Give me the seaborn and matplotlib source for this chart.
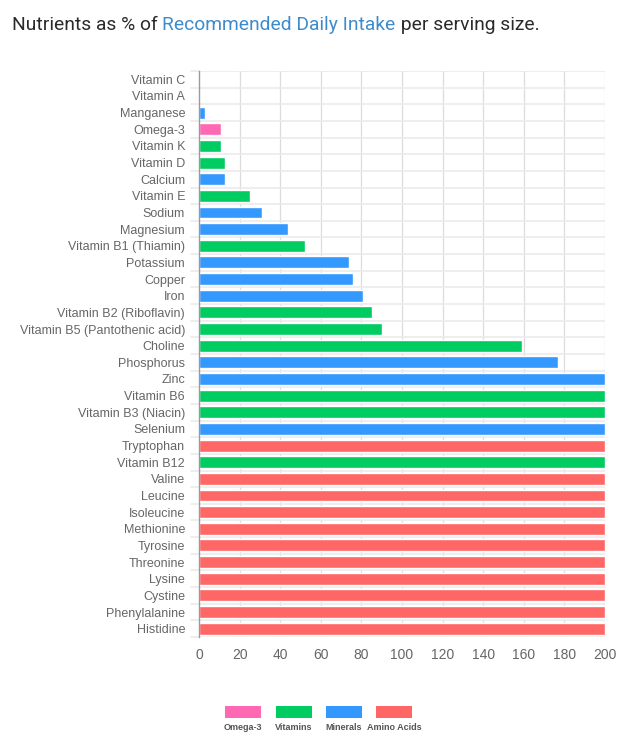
import matplotlib
matplotlib.use("Agg")
import matplotlib.pyplot as plt
from matplotlib.patches import Rectangle
import seaborn as sns
import pandas as pd

# data (values capped at 200)
nutrients = [
    "Vitamin C", "Vitamin A", "Manganese", "Omega-3", "Vitamin K", "Vitamin D",
    "Calcium", "Vitamin E", "Sodium", "Magnesium", "Vitamin B1 (Thiamin)",
    "Potassium", "Copper", "Iron", "Vitamin B2 (Riboflavin)",
    "Vitamin B5 (Pantothenic acid)", "Choline", "Phosphorus", "Zinc",
    "Vitamin B6", "Vitamin B3 (Niacin)", "Selenium", "Tryptophan",
    "Vitamin B12", "Valine", "Leucine", "Isoleucine", "Methionine",
    "Tyrosine", "Threonine", "Lysine", "Cystine", "Phenylalanine", "Histidine",
]
percent = [
    0, 0, 3, 11, 11, 13,
    13, 25, 31, 44, 52,
    74, 76, 81, 85,
    90, 159, 177, 200,
    200, 200, 200, 200,
    200, 200, 200, 200, 200,
    200, 200, 200, 200, 200, 200,
]
groups = [
    "Vitamins", "Vitamins", "Minerals", "Omega-3", "Vitamins", "Vitamins",
    "Minerals", "Vitamins", "Minerals", "Minerals", "Vitamins",
    "Minerals", "Minerals", "Minerals", "Vitamins",
    "Vitamins", "Vitamins", "Minerals", "Minerals",
    "Vitamins", "Vitamins", "Minerals", "Amino Acids",
    "Vitamins", "Amino Acids", "Amino Acids", "Amino Acids", "Amino Acids",
    "Amino Acids", "Amino Acids", "Amino Acids", "Amino Acids", "Amino Acids", "Amino Acids",
]
legend_order = ["Omega-3", "Vitamins", "Minerals", "Amino Acids"]
palette = {"Omega-3": "#ff69b4", "Vitamins": "#00cc62",
           "Minerals": "#3399ff", "Amino Acids": "#ff6666"}

df = pd.DataFrame({"nutrient": nutrients, "percent": percent, "group": groups})

sns.set_style("white")
plt.rcParams["font.family"] = ["Liberation Sans", "DejaVu Sans"]

fig = plt.figure(figsize=(6.25, 7.45), dpi=100)
ax = fig.add_axes([199 / 625, 1 - 637 / 745, 406 / 625, 566 / 745])

sns.barplot(data=df, x="percent", y="nutrient", hue="group", palette=palette,
            dodge=False, width=0.72, orient="h", legend=False, ax=ax,
            saturation=1)

ax.set_xlim(0, 200)
ax.set_ylim(len(nutrients) - 0.5, -0.5)
ax.set_xticks(range(0, 201, 20))
ax.set_xlabel("")
ax.set_ylabel("")

# grid: vertical at ticks, horizontal between rows
for v in range(20, 201, 20):
    ax.axvline(v, color="#dcdcdc", lw=0.9, zorder=0)
for i in range(len(nutrients) + 1):
    ax.axhline(i - 0.5, color="#ebebeb", lw=1.2, zorder=0)
    ax.plot([-0.02, 0], [i - 0.5, i - 0.5], color="#ebebeb", lw=1.2,
            transform=ax.get_yaxis_transform(), clip_on=False)
ax.set_axisbelow(True)

for s in ["top", "right", "bottom"]:
    ax.spines[s].set_visible(False)
ax.spines["left"].set_color("#9a9a9a")
ax.spines["left"].set_linewidth(1)
ax.tick_params(axis="y", length=0, pad=10, labelsize=9, labelcolor="#666666")
ax.tick_params(axis="x", length=6, color="#e6e6e6", pad=2, labelsize=10,
               labelcolor="#666666")

# title with a coloured middle part
title_font = dict(fontsize=13.9, family="Roboto", fontweight="normal")
t1 = fig.text(12 / 625, 1 - 30 / 745, "Nutrients as % of ", color="#2a2a2a",
              va="baseline", **title_font)
t2 = ax.annotate("Recommended Daily Intake", xy=(1, 0), xycoords=t1,
                 color="#3d8bcd", va="bottom", ha="left",
                 annotation_clip=False, **title_font)
ax.annotate(" per serving size.", xy=(1, 0), xycoords=t2, color="#2a2a2a",
            va="bottom", ha="left", annotation_clip=False, **title_font)

# legend: box above, label below
for k, g in enumerate(legend_order):
    cx = (243 + 50.5 * k) / 625
    fig.patches.append(Rectangle((cx - 18 / 625, 1 - 718 / 745), 36 / 625,
                                 12 / 745, transform=fig.transFigure,
                                 facecolor=palette[g], edgecolor="none"))
    fig.text(cx, 1 - 727 / 745, g, ha="center", va="center", fontsize=6.5,
             fontweight="bold", color="#555555")

fig.savefig("out.png", dpi=100)
